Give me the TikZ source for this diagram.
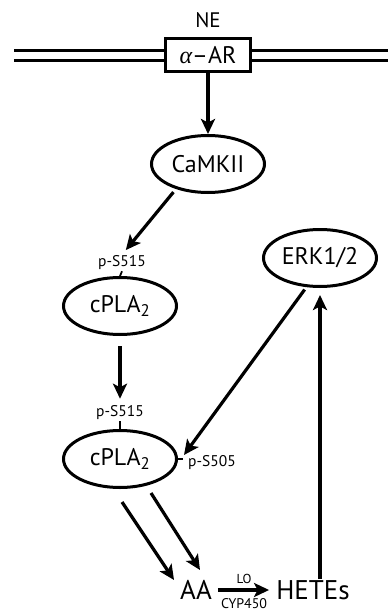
\documentclass[tikz,border=0pt]{standalone}
\usepackage{fontspec}
\setmainfont{PT Sans}
\newfontfamily\greekfont{Liberation Serif}
\usetikzlibrary{shapes.geometric, arrows.meta, positioning}

\begin{document}
\begin{tikzpicture}[x=1pt,y=-1pt,
    enzyme/.style={draw, ellipse, line width=3pt, minimum width=113pt, minimum height=57pt, inner sep=0pt, font=\fontsize{24}{26}\selectfont},
    site/.style={font=\fontsize{15.5}{17}\selectfont, inner sep=1pt},
    big/.style={font=\fontsize{27}{29}\selectfont, inner sep=1pt},
    link/.style={line width=3.2pt, -{Stealth[length=15pt,width=14pt,inset=3.5pt]}},
    tick/.style={line width=1.8pt}
  ]
  \useasboundingbox (0,0) rectangle (388,613);
  % membrane with receptor
  \draw[line width=3pt] (14,50) -- (388,50) (14,60) -- (388,60);
  \node[draw, fill=white, line width=3pt, minimum width=85pt, minimum height=33pt, inner sep=0pt, font=\fontsize{24}{26}\selectfont] (ar) at (208,55) {{\greekfont\itshape α}–AR};
  \node[font=\fontsize{21}{24}\selectfont] (ne) at (208,20) {NE};
  % enzymes
  \node[enzyme] (camk) at (208,164) {CaMKII};
  \node[enzyme] (erk) at (320,258) {ERK1/2};
  \node[site] (s1) at (122,263) {p-S515};
  \node[enzyme] (c1) at (120,306) {cPLA\textsubscript{2}};
  \node[site] (s2) at (120,413) {p-S515};
  \node[enzyme] (c2) at (120,459) {cPLA\textsubscript{2}};
  \node[site, anchor=west] (s3) at (187,463) {p-S505};
  % lipids
  \node[big] (aa) at (196,590) {AA};
  \node[big] (hetes) at (313,590) {HETEs};
  % connections
  \draw[link] (ar) -- (camk);
  \draw[link, shorten <=4pt, shorten >=6pt] (camk.218) -- (s1.north);
  \draw[tick] (s1.south) -- (c1.north);
  \draw[link, shorten <=10pt, shorten >=6pt] (c1.south) -- (s2.north);
  \draw[tick] (s2.south) -- (c2.north);
  \draw[tick] (c2.east) -- ([xshift=5pt]c2.east);
  \draw[link, shorten <=3pt] (erk.245) -- ([shift={(6,-4)}]c2.east);
  \draw[link] ([shift={(2,13)}]c2.south) -- ([shift={(-22,-10)}]aa.center);
  \draw[link] ([shift={(31,4)}]c2.south) -- ([shift={(4,-20)}]aa.center);
  \draw[link, line width=3.6pt, shorten <=5pt, shorten >=6pt] (aa) -- (hetes)
    node[midway, above=1pt, font=\fontsize{13}{15}\selectfont] {LO}
    node[midway, below=3pt, font=\fontsize{14}{16}\selectfont] {CYP450};
  \draw[link, shorten >=7pt] (hetes.north -| erk.south) -- (erk.south);
\end{tikzpicture}
\end{document}
